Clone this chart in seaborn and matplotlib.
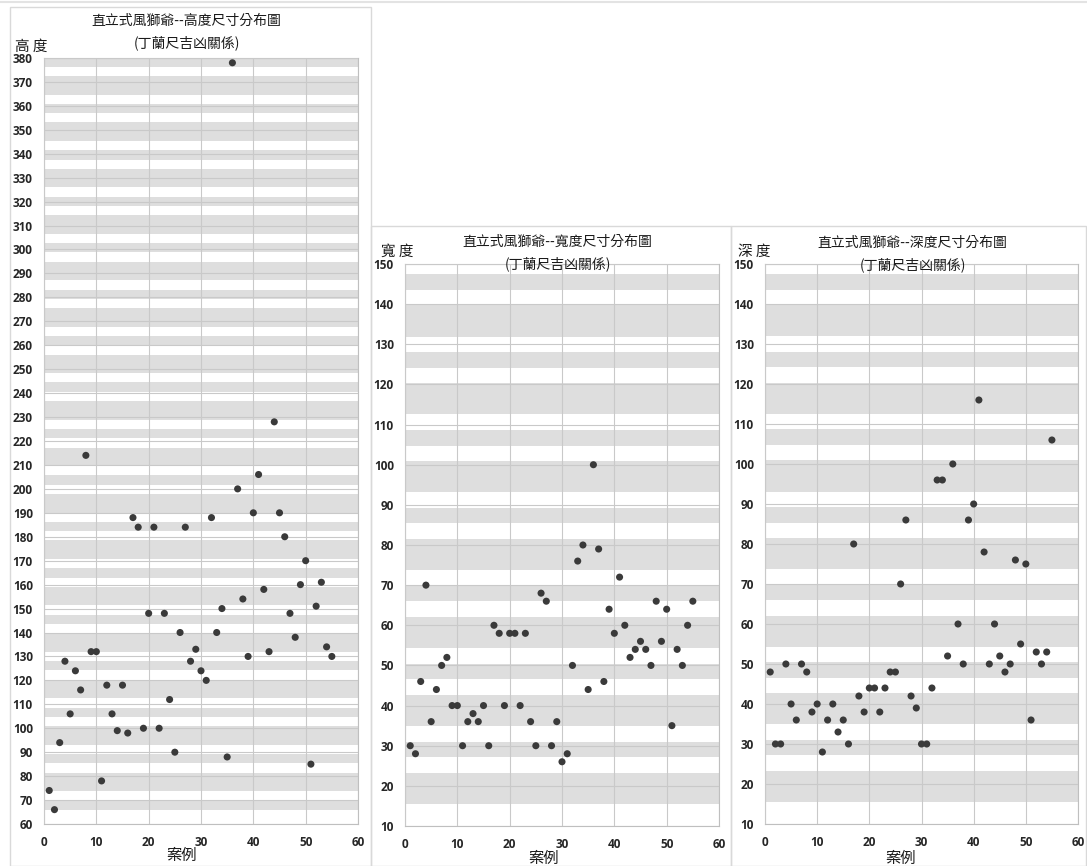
import pandas as pd
import seaborn as sns
import matplotlib.pyplot as plt
from matplotlib.patches import Rectangle
from matplotlib.lines import Line2D

# case numbers (x axis)
cases = list(range(1, 56))

height = [74, 66, 94, 128, 106, 124, 116, 214, 132, 132,
          78, 118, 106, 99, 118, 98, 188, 184, 100, 148,
          184, 100, 148, 112, 90, 140, 184, 128, 133, 124,
          120, 188, 140, 150, 88, 378, 200, 154, 130, 190,
          206, 158, 132, 228, 190, 180, 148, 138, 160, 170,
          85, 151, 161, 134, 130]

width = [30, 28, 46, 70, 36, 44, 50, 52, 40, 40,
         30, 36, 38, 36, 40, 30, 60, 58, 40, 58,
         58, 40, 58, 36, 30, 68, 66, 30, 36, 26,
         28, 50, 76, 80, 44, 100, 79, 46, 64, 58,
         72, 60, 52, 54, 56, 54, 50, 66, 56, 64,
         35, 54, 50, 60, 66]

depth = [48, 30, 30, 50, 40, 36, 50, 48, 38, 40,
         28, 36, 40, 33, 36, 30, 80, 42, 38, 44,
         44, 38, 44, 48, 48, 70, 86, 42, 39, 30,
         30, 44, 96, 96, 52, 100, 60, 50, 86, 90,
         116, 78, 50, 60, 52, 48, 50, 76, 55, 75,
         36, 53, 50, 53, 106]

# Ding Lan ruler: one length split into 10 sections, the good ones get a gray band
dinglan_length = 38.8
dinglan_sections = ['財', '失', '興', '死', '官', '義', '苦', '旺', '害', '丁']
dinglan_good = ['財', '興', '官', '義', '旺', '丁']

df = pd.DataFrame({'case': cases, 'height': height, 'width': width, 'depth': depth})

W, H = 1087, 866


def fx(px):
    return px / W


def fy(py):
    return 1 - py / H


def good_bands(lo, hi):
    step = dinglan_length / len(dinglan_sections)
    bands = []
    n = 0
    while n * step < hi:
        if dinglan_sections[n % 10] in dinglan_good:
            a, b = n * step, (n + 1) * step
            if bands and abs(bands[-1][1] - a) < 1e-6:
                bands[-1] = (bands[-1][0], b)
            else:
                bands.append((a, b))
        n += 1
    # bands that only peek into the plot were not drawn in the original
    return [(a, b) for a, b in bands if min(b, hi) - max(a, lo) > 3]


sns.set_style('white')
plt.rcParams['font.family'] = ['Open Sans', 'Noto Sans CJK TC', 'DejaVu Sans']
plt.rcParams['font.weight'] = 'bold'
cjk = ['Noto Sans CJK TC', 'DejaVu Sans']

fig = plt.figure(figsize=(W / 100, H / 100), dpi=100)

# chart frames like the pasted Excel charts
frame_col = '#d9d9d9'
fig.add_artist(Line2D([0, 1], [fy(2), fy(2)], transform=fig.transFigure, color='#e3e3e3', lw=1.5))
for x0, y0, x1, y1 in [(10, 7, 371, 866), (371, 226, 731, 866), (731, 226, 1086, 866)]:
    fig.add_artist(Rectangle((fx(x0), fy(y1)), fx(x1) - fx(x0), fy(y0) - fy(y1),
                             transform=fig.transFigure, fill=False, edgecolor=frame_col, lw=1))

panels = [
    # column, y range, axes box in px (left, top, right, bottom), title x, title y, ylabel, ylabel pos, xlabel pos
    ('height', (60, 380), (44, 58, 358, 824), 186, 21, '高 度', (15, 47), (181, 855)),
    ('width', (10, 150), (405, 264, 719, 826), 557, 242, '寬 度', (381, 252), (543, 858)),
    ('depth', (10, 150), (765, 264, 1078, 824), 912, 243, '深 度', (738, 252), (900, 858)),
]
names = {'height': '高度', 'width': '寬度', 'depth': '深度'}

for col, (ylo, yhi), (l, t, r, b), tx, ty, ylab, (yx, yy), (xx, xy) in panels:
    ax = fig.add_axes([fx(l), fy(b), fx(r) - fx(l), fy(t) - fy(b)])
    for a, c in good_bands(ylo, yhi):
        ax.axhspan(a, c, color='#dedede', lw=0, zorder=1)
    sns.scatterplot(data=df, x='case', y=col, ax=ax, color='#3a3a3a', s=26,
                    edgecolor='none', zorder=3)
    ax.set_xlim(0, 60)
    ax.set_ylim(ylo, yhi)
    ax.set_xticks(range(0, 61, 10))
    ax.set_yticks(range(ylo, yhi + 1, 10))
    ax.set_axisbelow(False)
    ax.grid(True, color='#c9c9c9', lw=0.8)
    ax.set_xlabel('')
    ax.set_ylabel('')
    for s in ax.spines.values():
        s.set_color('#bfbfbf')
        s.set_linewidth(0.8)
    ax.tick_params(length=0, labelsize=8.5, labelcolor='#262626')
    ax.tick_params(axis='x', pad=9)
    ax.tick_params(axis='y', pad=8)

    fig.text(fx(tx), fy(ty), '直立式風獅爺--' + names[col] + '尺寸分布圖', ha='center', va='center',
             fontsize=10, family=cjk, fontweight='medium', color='#1a1a1a')
    fig.text(fx(tx + 1), fy(ty + 22), '(丁蘭尺吉凶關係)', ha='center', va='center',
             fontsize=10, family=cjk, fontweight='medium', color='#1a1a1a')
    fig.text(fx(yx), fy(yy), ylab, ha='left', va='center', fontsize=10.5, family=cjk,
             fontweight='normal', color='#1a1a1a')
    fig.text(fx(xx), fy(xy), '案例', ha='center', va='center', fontsize=11, family=cjk,
             fontweight='medium', color='#1a1a1a')

fig.savefig('out.png', dpi=100, facecolor='white')
